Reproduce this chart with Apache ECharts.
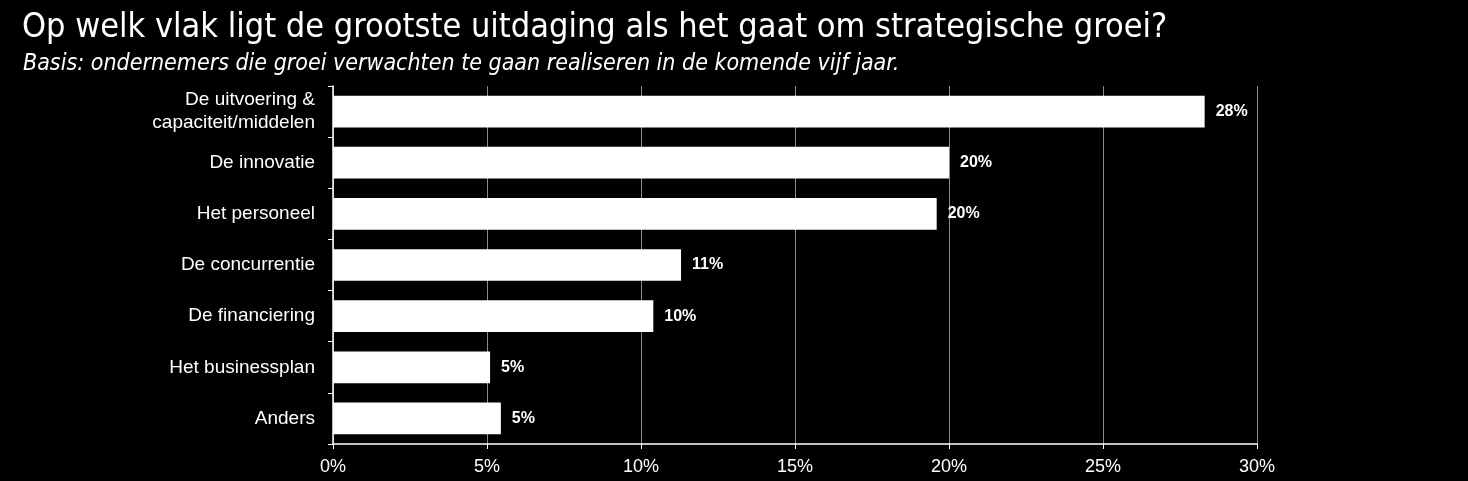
<!DOCTYPE html>
<html>
<head>
<meta charset="utf-8">
<script src="https://cdn.jsdelivr.net/npm/echarts@6/dist/echarts.min.js"></script>
<style>
html,body{margin:0;padding:0;background:#000;}
#c{width:1468px;height:481px;}
</style>
</head>
<body>
<div id="c"></div>
<script>
const categories = ["De uitvoering &\ncapaciteit/middelen", "De innovatie", "Het personeel", "De concurrentie", "De financiering", "Het businessplan", "Anders"];
const values = [28.3, 20.0, 19.6, 11.3, 10.4, 5.1, 5.45];
const valueLabels = ["28%", "20%", "20%", "11%", "10%", "5%", "5%"];
const titleText = "Op welk vlak ligt de grootste uitdaging als het gaat om strategische groei?";
const subtitleText = "Basis: ondernemers die groei verwachten te gaan realiseren in de komende vijf jaar.";

const chart = echarts.init(document.getElementById('c'));
chart.setOption({
  backgroundColor: '#000',
  animation: false,
  title: [{
    text: titleText,
    left: 17, top: 6,
    textStyle: {color: '#fff', fontSize: 34, fontWeight: 'normal', fontFamily: "'DejaVu Sans Condensed',sans-serif"}
  },{
    text: subtitleText,
    left: 18, top: 48,
    textStyle: {color: '#fff', fontSize: 23, fontStyle: 'italic', fontWeight: 'normal', fontFamily: "'DejaVu Sans Condensed',sans-serif"}
  }],
  grid: {left: 333, right: 211, top: 86, bottom: 37, containLabel: false},
  xAxis: {
    type: 'value', min: 0, max: 30, interval: 5,
    axisLine: {show: true, lineStyle: {color: '#fff', width: 1.5}},
    axisTick: {show: true, length: 5, lineStyle: {color: '#fff'}},
    splitLine: {show: true, lineStyle: {color: '#8c8c8c', width: 1}},
    axisLabel: {color: '#fff', fontSize: 18, margin: 14, formatter: v => v + '%', fontFamily: "'Liberation Sans','Arimo',sans-serif"}
  },
  yAxis: {
    type: 'category', data: categories, inverse: true,
    axisLine: {show: true, lineStyle: {color: '#fff', width: 1.5}},
    axisTick: {show: true, length: 5, lineStyle: {color: '#fff'}},
    axisLabel: {color: '#fff', fontSize: 19, margin: 18, lineHeight: 23, fontFamily: "'Liberation Sans','Arimo',sans-serif"}
  },
  series: [{
    type: 'bar',
    data: values,
    barCategoryGap: '38%',
    itemStyle: {color: '#fff'},
    label: {
      show: true, position: 'right', distance: 11, color: '#fff', fontSize: 16, fontWeight: 'bold',
      fontFamily: "'Liberation Sans','Arimo',sans-serif",
      formatter: p => valueLabels[p.dataIndex]
    }
  }]
});
</script>
</body>
</html>
